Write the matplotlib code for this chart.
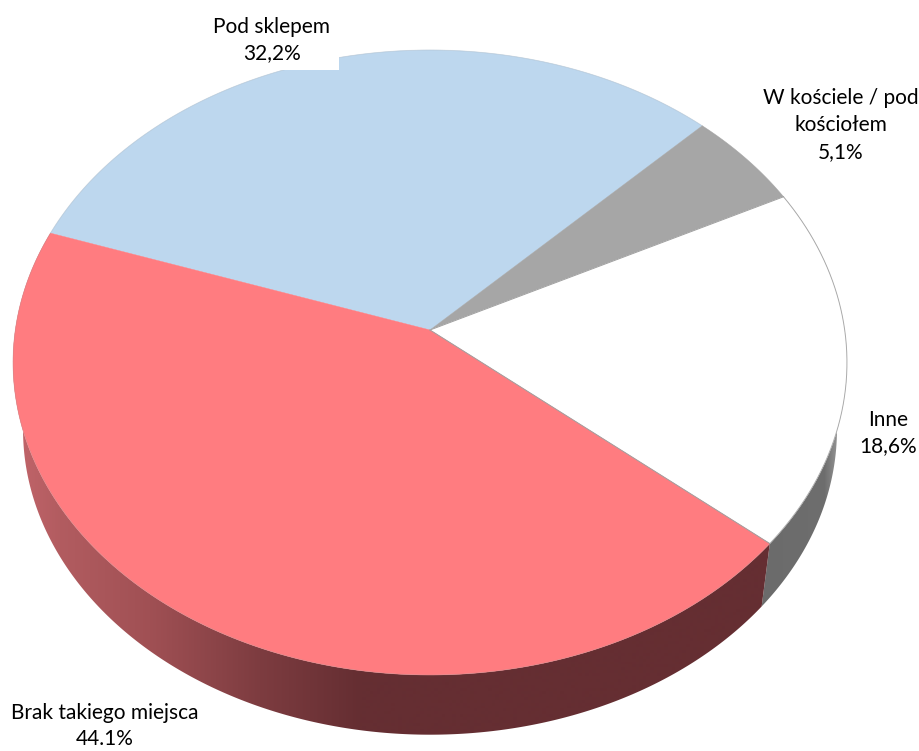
import numpy as np
import matplotlib
matplotlib.use("Agg")
import matplotlib.pyplot as plt
from matplotlib.patches import Polygon, Rectangle

# data, clockwise from the red/blue border
categories = ["Pod sklepem", "W kościele / pod\nkościołem", "Inne", "Brak takiego miejsca"]
values = [32.2, 5.1, 18.6, 44.1]
value_labels = ["32,2%", "5,1%", "18,6%", "44.1%"]
colors = ["#BDD7EE", "#A6A6A6", "#FFFFFF", "#FF7C80"]

# label centres in pixels
label_x = [272, 841, 888, 105]
label_y = [40, 125, 433, 726]

# pie projection: tilted circle seen in perspective
start_angle = -71.1
cx, cy = 430, 330
scale_x, scale_y, persp = 414.7, 309.1, 0.104
depth_scale, depth_shift = 0.976, 68


def project(clock_deg, lower=False):
    t = np.radians(clock_deg)
    x, y = np.sin(t), np.cos(t)
    w = 1 + persp * y
    px, py = scale_x * x / w, -scale_y * y / w
    if lower:
        return cx + depth_scale * px, cy + depth_scale * py + depth_shift
    return cx + px, cy + py


def side_color(name, px):
    # side wall gets darker going right
    if name == "Inne":
        g = np.interp(px, [760, 825, 840], [0.42, 0.43, 0.6])
        return np.column_stack([g, g, g])
    r = np.interp(px, [20, 60, 150, 260, 360], [192, 178, 160, 125, 101])
    g = np.interp(px, [20, 60, 150, 260, 360], [100, 92, 80, 60, 46])
    b = np.interp(px, [20, 60, 150, 260, 360], [105, 96, 84, 64, 50])
    return np.column_stack([r, g, b]) / 255


fig = plt.figure(figsize=(9.2, 7.51), dpi=100)
ax = fig.add_axes([0, 0, 1, 1])

edges = start_angle + np.concatenate([[0], np.cumsum(values)]) * 3.6

# side wall, gradient image clipped to the wall shape
grid_x = np.arange(0, 921)
for i, name in enumerate(categories):
    if name not in ("Inne", "Brak takiego miejsca"):
        continue
    th = np.linspace(edges[i], edges[i + 1], 300)
    x1, y1 = project(th)
    x2, y2 = project(th, True)
    wall = Polygon(np.column_stack([np.r_[x1, x2[::-1]], np.r_[y1, y2[::-1]]]), closed=True,
                   facecolor="none", edgecolor="none", transform=ax.transData)
    ax.add_patch(wall)
    img = ax.imshow(side_color(name, grid_x)[np.newaxis, :, :], extent=(0, 920, 751, 0),
                    aspect="auto", zorder=1, interpolation="bilinear")
    img.set_clip_path(wall)

ax.set_xlim(0, 920)
ax.set_ylim(751, 0)
ax.axis("off")

# top of the pie
for i, name in enumerate(categories):
    th = np.linspace(edges[i], edges[i + 1], 200)
    xs, ys = project(th)
    pts = np.column_stack([np.r_[cx, xs], np.r_[cy, ys]])
    ax.add_patch(Polygon(pts, closed=True, facecolor=colors[i], edgecolor=colors[i], linewidth=0.3, zorder=2))
    # thin grey rim
    ax.plot(xs, ys, color="#9a9a9a", lw=0.7, zorder=3, alpha=0.8 if name == "Inne" else 0.2)

# grey lines round the white slice
for e in (edges[2], edges[3]):
    x, y = project(e)
    ax.plot([cx, x], [cy, y], color="#a0a0a0", lw=0.7, zorder=3)

# label box cuts into the blue slice
ax.add_patch(Rectangle((205, 0), 134, 70, facecolor="white", edgecolor="none", zorder=4))

for name, val, x, y in zip(categories, value_labels, label_x, label_y):
    ax.text(x, y, name + "\n" + val, ha="center", va="center", fontsize=15,
            family="Lato", color="black", linespacing=1.42, zorder=5)

fig.savefig("out.png", dpi=100)
